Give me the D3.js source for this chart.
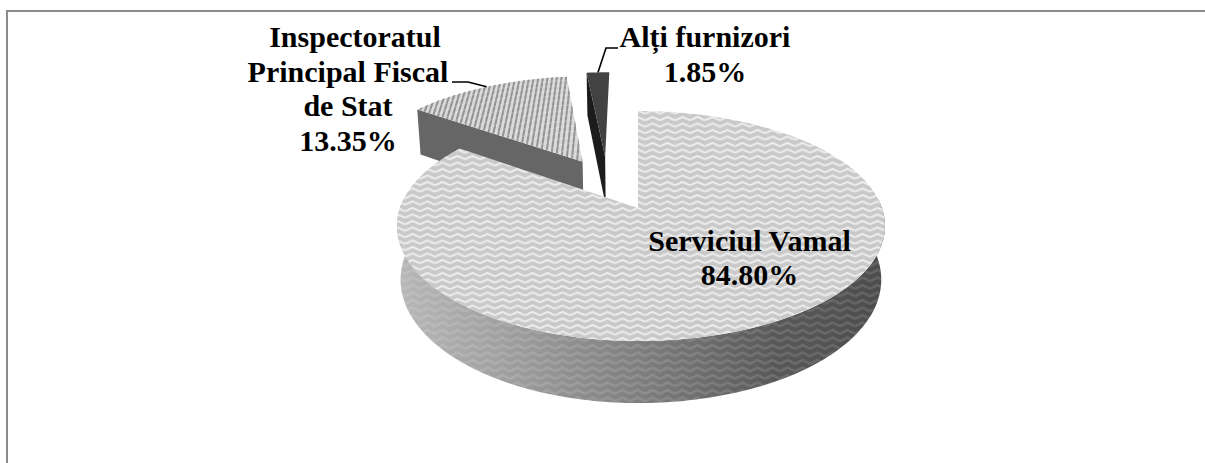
<!DOCTYPE html>
<html><head><meta charset="utf-8">
<script src="https://cdn.jsdelivr.net/npm/d3@7"></script>
<style>html,body{margin:0;background:#fff}svg{display:block}text{font-family:"Liberation Serif","Times New Roman",serif;font-weight:700;font-size:30px;fill:#000;text-anchor:middle}</style>
</head><body><div id="c"></div>
<script>
const categories = ["Serviciul Vamal", "Inspectoratul Principal Fiscal de Stat", "Alți furnizori"];
const shares = [84.80, 13.35, 1.85];
const shareLabels = ["84.80%", "13.35%", "1.85%"];
const labelLines = [["Serviciul Vamal"], ["Inspectoratul", "Principal Fiscal", "de Stat"], ["Alți furnizori"]];

const W = 1205, H = 463;
const svg = d3.select("#c").append("svg").attr("width", W).attr("height", H);
const defs = svg.append("defs");

function zig(id, bg, fg, w, h, sw) {
  const p = defs.append("pattern").attr("id", id).attr("patternUnits", "userSpaceOnUse").attr("width", w).attr("height", h);
  p.append("rect").attr("width", w).attr("height", h).attr("fill", bg);
  for (const dy of [-h, 0, h]) {
    p.append("path").attr("d", `M0,${h/2+dy} L${w/2},${dy} L${w},${h/2+dy}`).attr("fill", "none").attr("stroke", fg).attr("stroke-width", sw);
  }
}
zig("topZig", "#c9c9c9", "#ececec", 15, 6.5, 2.2);
zig("sideZig", "rgba(255,255,255,0)", "rgba(255,255,255,0.13)", 15, 7.5, 2.4);
defs.append("filter").attr("id", "soft").attr("x", "-5%").attr("y", "-5%").attr("width", "110%").attr("height", "110%")
  .append("feGaussianBlur").attr("stdDeviation", 0.5);
const g = defs.append("linearGradient").attr("id", "sideGrad").attr("x1", 0).attr("x2", 1).attr("y1", 0).attr("y2", 0);
[[0, "#b8b8b8"], [0.25, "#9c9c9c"], [0.5, "#7e7e7e"], [0.78, "#585858"], [1, "#4c4c4c"]].forEach(d => g.append("stop").attr("offset", d[0]).attr("stop-color", d[1]));

const ax = 638, ay = 208, R = 241, S = 112.2, k = 0.1565, D = 52.3, shrink = 0.985, lowCx = 640, explode = 0.245;
const bias = [0.012, 0, 0];
const nudge = [[0, 0], [-0.008, 0.012], [-0.02, 0.03]];
function proj(u, v, low) {
  const w = 1 + k * v;
  let x = ax + R * u / w, y = ay - S * v / w;
  if (low) { x = lowCx + (x - lowCx) * shrink; y += D / w; }
  return [x, y];
}
const pie = d3.pie().sort(null).value(d => d);
const arcs = pie(shares);
const mid0 = (arcs[0].startAngle + arcs[0].endAngle) / 2;
const base = [-explode * Math.sin(mid0), -explode * Math.cos(mid0)];
function origin(a) {
  const m = (a.startAngle + a.endAngle) / 2;
  return [base[0] + explode * Math.sin(m) + nudge[a.index][0], base[1] + explode * Math.cos(m) + nudge[a.index][1]];
}
function ring(a, o, t0, t1, low) {
  const n = Math.max(2, Math.ceil((t1 - t0) / 0.02));
  return d3.range(n + 1).map(i => {
    const t = t0 + (t1 - t0) * i / n;
    return proj(o[0] + Math.sin(t) + bias[a.index] * Math.abs(Math.sin(t)), o[1] + Math.cos(t), low);
  });
}
const line = d3.line();
const poly = pts => line(pts) + "Z";

svg.append("path").attr("d", line([[7, H], [7, 11], [W, 11]])).attr("fill", "none").attr("stroke", "#8c8c8c").attr("stroke-width", 2);

const marks = svg.append("g").attr("filter", "url(#soft)");

// Inspectorat slice
{
  const a = arcs[1], o = origin(a);
  const top = ring(a, o, a.startAngle, a.endAngle, false);
  const A = proj(o[0], o[1], false), Al = proj(o[0], o[1], true);
  const Bl = proj(o[0] + Math.sin(a.startAngle), o[1] + Math.cos(a.startAngle), true);
  marks.append("path").attr("d", poly([top[0], A, Al, Bl])).attr("fill", "#666");
  const face = [A, ...top];
  defs.append("clipPath").attr("id", "clipB").append("path").attr("d", poly(face));
  const gg = marks.append("g").attr("clip-path", "url(#clipB)");
  gg.append("path").attr("d", poly(face)).attr("fill", "#d9d9d9");
  d3.range(-1.2, 0.1, 0.0235).forEach(u => {
    gg.append("path").attr("d", line([proj(o[0] + u, o[1] - 0.1, false), proj(o[0] + u, o[1] + 1.1, false)]))
      .attr("fill", "none").attr("stroke", "#929292").attr("stroke-width", 2);
  });
  d3.range(0.08, 1.02, 0.062).forEach(r => {
    const l = d3.range(a.startAngle, a.endAngle + 0.02, 0.02).map(t => proj(o[0] + r * Math.sin(t), o[1] + r * Math.cos(t), false));
    gg.append("path").attr("d", line(l)).attr("fill", "none").attr("stroke", "#fff").attr("stroke-opacity", 0.16).attr("stroke-width", 1.6);
  });
}
// Alti slice
{
  const a = arcs[2], o = origin(a);
  const top = ring(a, o, a.startAngle, a.endAngle, false);
  const A = proj(o[0], o[1], false), Al = proj(o[0], o[1], true);
  const Bl = proj(o[0] + Math.sin(a.startAngle), o[1] + Math.cos(a.startAngle), true);
  marks.append("path").attr("d", poly([top[0], A, Al, Bl])).attr("fill", "#1e1e1e");
  marks.append("path").attr("d", poly([A, ...top])).attr("fill", "#434343");
}
// Main slice
{
  const a = arcs[0], o = origin(a);
  const t0 = Math.PI / 2 - 0.08, t1 = 3 * Math.PI / 2 + 0.08;
  const side = poly(ring(a, o, t0, t1, false).concat(ring(a, o, t0, t1, true).reverse()));
  marks.append("path").attr("d", side).attr("fill", "url(#sideGrad)");
  marks.append("path").attr("d", side).attr("fill", "url(#sideZig)");
  const top = ring(a, o, a.startAngle, a.endAngle, false);
  const A = proj(o[0], o[1], false), Al = proj(o[0], o[1], true);
  marks.append("path").attr("d", poly([top[0], A, Al, proj(o[0], o[1] + 1, true)])).attr("fill", "#777");
  marks.append("path").attr("d", poly([A, ...top])).attr("fill", "url(#topZig)");
}

// leader lines
{
  const a = arcs[1], o = origin(a), m = (a.startAngle + a.endAngle) / 2;
  const p = proj(o[0] + Math.sin(m), o[1] + Math.cos(m), false);
  svg.append("path").attr("d", line([[452, 82], [468, 82], p])).attr("fill", "none").attr("stroke", "#000").attr("stroke-width", 1.6);
  const b = arcs[2], ob = origin(b), mb = (b.startAngle + b.endAngle) / 2;
  const q = proj(ob[0] + Math.sin(mb), ob[1] + Math.cos(mb), false);
  svg.append("path").attr("d", line([[618, 48], [606, 48], q])).attr("fill", "none").attr("stroke", "#000").attr("stroke-width", 1.6);
}

const labelPos = [[749.5, 250.5, 34], [348, 47, 34.5], [705, 47, 34.5]];
arcs.forEach((a, i) => {
  const lines = [...labelLines[i], shareLabels[i]];
  const t = svg.append("text").attr("x", labelPos[i][0]).attr("y", labelPos[i][1]);
  lines.forEach((s, j) => t.append("tspan").attr("x", labelPos[i][0] + (s === "Inspectoratul" ? 7 : 0)).attr("dy", j ? labelPos[i][2] : 0).text(s));
});
</script></body></html>
